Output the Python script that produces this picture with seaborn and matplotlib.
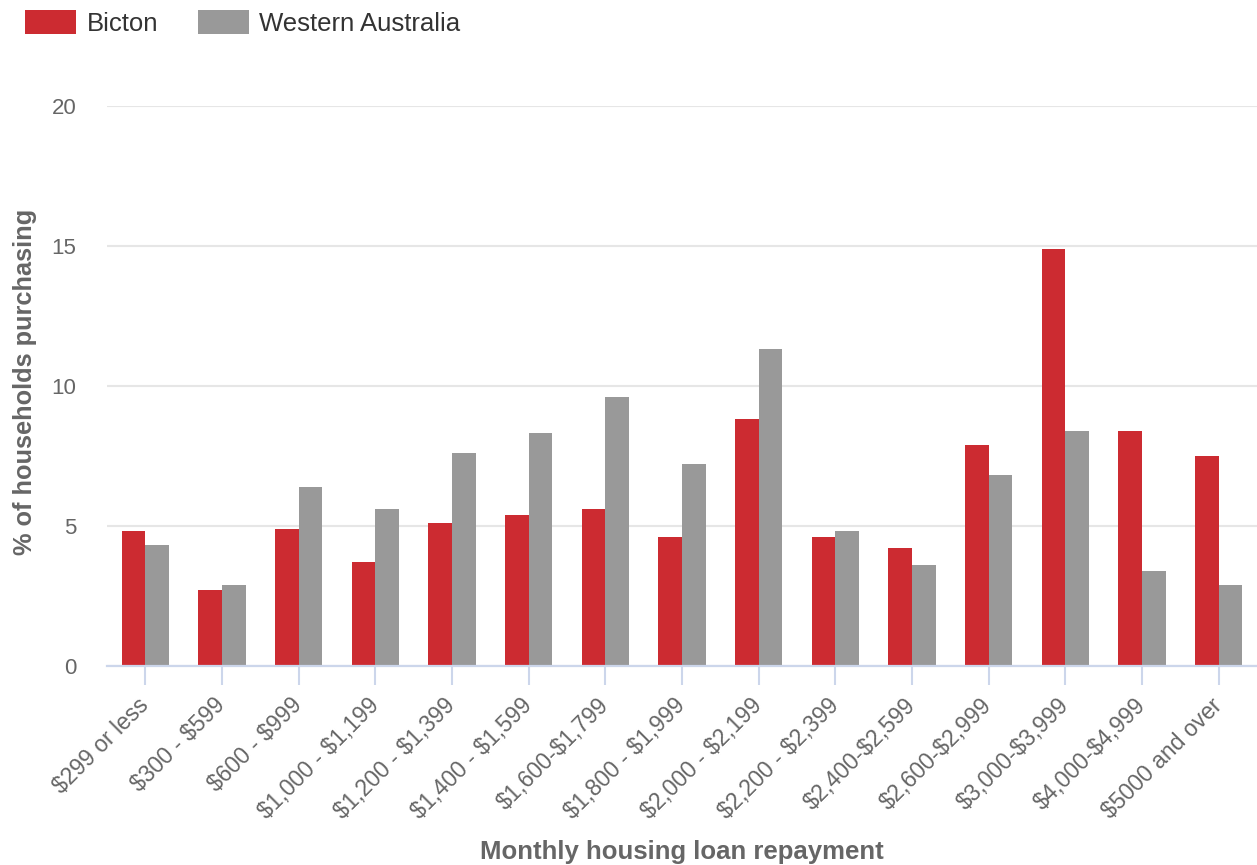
import matplotlib
matplotlib.use("Agg")
import matplotlib.pyplot as plt
import pandas as pd
import seaborn as sns

# values
categories = [
    "$299 or less", "$300 - $599", "$600 - $999", "$1,000 - $1,199",
    "$1,200 - $1,399", "$1,400 - $1,599", "$1,600-$1,799", "$1,800 - $1,999",
    "$2,000 - $2,199", "$2,200 - $2,399", "$2,400-$2,599", "$2,600-$2,999",
    "$3,000-$3,999", "$4,000-$4,999", "$5000 and over",
]
bicton = [4.8, 2.7, 4.9, 3.7, 5.1, 5.4, 5.6, 4.6, 8.8, 4.6, 4.2, 7.9, 14.9, 8.4, 7.5]
western_australia = [4.3, 2.9, 6.4, 5.6, 7.6, 8.3, 9.6, 7.2, 11.3, 4.8, 3.6, 6.8, 8.4, 3.4, 2.9]
series_names = ["Bicton", "Western Australia"]
y_ticks = [0, 5, 10, 15, 20]


def build_frame():
    df = pd.DataFrame({
        "category": categories * 2,
        "area": [series_names[0]] * len(categories) + [series_names[1]] * len(categories),
        "value": bicton + western_australia,
    })
    return df


def create_plot(df):
    sns.set_style("white")
    plt.rcParams["font.family"] = ["Liberation Sans", "DejaVu Sans"]
    plt.rcParams["text.parse_math"] = False  # labels contain "$"

    fig = plt.figure(figsize=(12.57, 8.65), dpi=100)
    ax = fig.add_axes([107 / 1257, 1 - 665.7 / 865, 1150 / 1257, (665.7 - 105.7) / 865])

    sns.barplot(ax=ax, data=df, x="category", y="value", hue="area",
                palette=["#cc2b31", "#999999"], width=0.62, gap=0,
                saturation=1, linewidth=0, legend=True)

    ax.set_xlim(-0.5, len(categories) - 0.5)
    ax.set_ylim(0, 20)
    ax.set_yticks(y_ticks)
    ax.yaxis.grid(True, color="#e6e6e6", linewidth=1.5)
    ax.set_axisbelow(True)

    for side in ["left", "right", "top"]:
        ax.spines[side].set_visible(False)
    ax.spines["bottom"].set_color("#ccd6eb")
    ax.spines["bottom"].set_linewidth(1.6)

    ax.tick_params(axis="y", left=False, length=0, pad=22, labelsize=16, labelcolor="#666666")
    ax.tick_params(axis="x", bottom=True, length=14, width=1.5, color="#ccd6eb", pad=12,
                   labelsize=16.5, labelcolor="#666666")
    for lbl in ax.get_yticklabels():
        lbl.set_horizontalalignment("right")
    plt.setp(ax.get_xticklabels(), rotation=45, ha="right", va="center",
             rotation_mode="anchor")

    ax.set_xlabel("Monthly housing loan repayment", fontsize=18.5, fontweight="bold",
                  color="#666666", va="center")
    ax.set_ylabel("% of households purchasing", fontsize=18.3, fontweight="bold",
                  color="#666666", va="center")
    ax.xaxis.set_label_coords(0.5, -0.3327)
    ax.yaxis.set_label_coords(-0.0713, 0.507)

    ax.legend(loc="upper left", bbox_to_anchor=(15 / 1257, 1.0),
              bbox_transform=fig.transFigure, ncol=2, frameon=False,
              fontsize=18.5, handlelength=1.98, handleheight=1.05,
              columnspacing=1.55, handletextpad=0.4, labelcolor="#333333",
              borderaxespad=0)

    fig.savefig("out.png", dpi=100)
    plt.close(fig)


def main():
    df = build_frame()
    create_plot(df)


if __name__ == "__main__":
    main()
